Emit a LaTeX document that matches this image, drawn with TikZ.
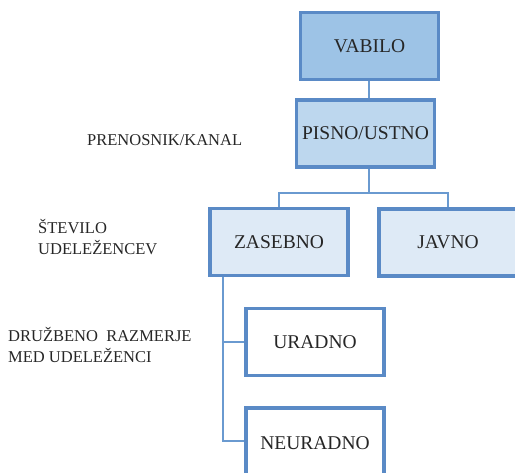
\documentclass[tikz,border=0pt]{standalone}
\usepackage{fontspec}
\setmainfont{Liberation Serif}
\definecolor{edge}{HTML}{5A8AC6}
\definecolor{wire}{HTML}{6A9AD0}
\definecolor{fillA}{HTML}{9DC3E6}
\definecolor{fillB}{HTML}{BDD7EE}
\definecolor{fillC}{HTML}{DEEAF6}
\tikzset{
  box/.style={draw=edge, line width=3.2pt, minimum width=138pt, minimum height=67pt, inner sep=0pt, font=\fontsize{19.5}{22}\selectfont, text=black!85},
  wirestyle/.style={draw=wire, line width=2.2pt},
  lbl/.style={font=\fontsize{16.5}{21}\selectfont, align=left, inner sep=0pt, text=black!85}
}
\begin{document}
\begin{tikzpicture}[x=1pt,y=-1pt]
\useasboundingbox (0,0) rectangle (515,473);
\clip (0,0) rectangle (515,473);
\node[box, fill=fillA] (vab) at (369.5,46) {VABILO};
\node[box, fill=fillB] (pis) at (365.5,133.5) {PISNO/USTNO};
\node[box, fill=fillC] (zas) at (279,242) {ZASEBNO};
\node[box, fill=fillC, minimum width=142pt] (jav) at (450,242.5) {\hspace*{-4pt}JAVNO};
\node[box, fill=white] (ura) at (315,342) {URADNO};
\node[box, fill=white, minimum height=70pt] (neu) at (315,443) {NEURADNO};
\coordinate (split) at (369,193);
\coordinate (zx) at (223,277);
\draw[wirestyle] (vab.south -| 369,0) -- (pis.north -| 369,0);
\draw[wirestyle] (pis.south -| split) -- (split);
\draw[wirestyle] (zas.north) |- (split) -| (jav.north -| 448,0);
\draw[wirestyle] (zx) |- (ura.west);
\draw[wirestyle] (zx) |- (neu.west |- 0,441);
\node[lbl, anchor=west] (l1) at (87,140) {PRENOSNIK/KANAL};
\node[lbl, anchor=north west] (l2) at (38,219) {ŠTEVILO\\UDELEŽENCEV};
\node[lbl, anchor=north west] (l3) at (8,327) {DRUŽBENO\ \ RAZMERJE\\MED UDELEŽENCI};
\end{tikzpicture}
\end{document}
